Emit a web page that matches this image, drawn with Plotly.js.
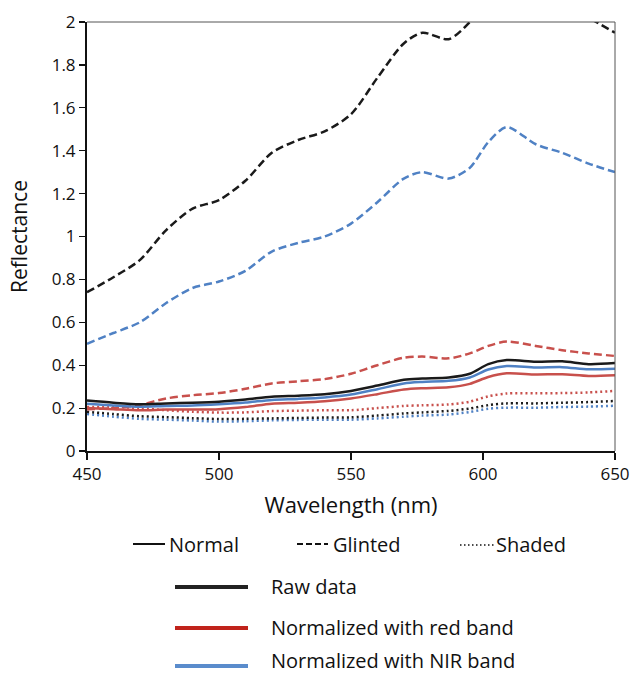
<!DOCTYPE html>
<html><head><meta charset="utf-8">
<script src="https://cdn.plot.ly/plotly-3.0.1.min.js"></script>
<style>html,body{margin:0;padding:0;background:#fff}</style>
</head><body><div id="chart" style="width:634px;height:676px"></div>
<script>
const wavelength = [450,460,470,480,490,500,510,520,530,540,550,560,570,577,587,595,602,609,620,630,640,650];

const normalRaw = [0.235,0.225,0.218,0.222,0.225,0.23,0.24,0.253,0.258,0.265,0.28,0.305,0.332,0.338,0.343,0.36,0.405,0.424,0.416,0.418,0.405,0.41];
const normalRed = [0.20,0.195,0.19,0.193,0.193,0.195,0.205,0.22,0.225,0.232,0.245,0.265,0.287,0.293,0.297,0.313,0.345,0.362,0.357,0.358,0.35,0.353];
const normalNIR = [0.22,0.212,0.206,0.21,0.212,0.218,0.226,0.238,0.243,0.25,0.263,0.288,0.315,0.322,0.327,0.343,0.38,0.396,0.389,0.391,0.381,0.384];

const glintedRaw = [0.74,0.81,0.89,1.03,1.13,1.17,1.26,1.39,1.45,1.49,1.57,1.74,1.90,1.95,1.92,2.0,2.12,2.18,2.15,2.09,2.02,1.95];
const glintedRed = [0.195,0.20,0.215,0.245,0.26,0.27,0.29,0.315,0.325,0.335,0.36,0.40,0.435,0.44,0.432,0.455,0.49,0.51,0.49,0.47,0.455,0.443];
const glintedNIR = [0.50,0.55,0.60,0.69,0.76,0.79,0.84,0.93,0.97,1.00,1.06,1.16,1.27,1.30,1.27,1.32,1.44,1.51,1.43,1.39,1.34,1.30];

const shadedRaw = [0.183,0.172,0.162,0.158,0.153,0.149,0.15,0.152,0.154,0.156,0.157,0.165,0.175,0.18,0.187,0.198,0.214,0.222,0.222,0.225,0.228,0.233];
const shadedRed = [0.205,0.205,0.20,0.19,0.183,0.179,0.18,0.186,0.188,0.19,0.19,0.2,0.21,0.213,0.217,0.23,0.255,0.268,0.269,0.27,0.273,0.28];
const shadedNIR = [0.172,0.16,0.15,0.146,0.142,0.137,0.139,0.143,0.145,0.146,0.146,0.152,0.16,0.165,0.17,0.182,0.197,0.202,0.202,0.205,0.207,0.211];

const xTicks = [450,500,550,600,650];
const yTicks = [0,0.2,0.4,0.6,0.8,1,1.2,1.4,1.6,1.8,2];
const yTickText = ['0','0.2','0.4','0.6','0.8','1','1.2','1.4','1.6','1.8','2'];

const conditionLabels = ['Normal','Glinted','Shaded'];
const methodLabels = ['Raw data','Normalized with red band','Normalized with NIR band'];

const BLACK = '#1a1a1a', RED = '#c8504c', BLUE = '#4f81c4';
const LEG_RED = '#c0231b', LEG_BLUE = '#5a8ccc';
const DASH = '8px,4px', DOT = '2px,3px';

function tr(y, color, dash, w) {
  return {x: wavelength, y: y, type: 'scatter', mode: 'lines',
    line: {color: color, width: w || 2.5, dash: dash, shape: 'spline', smoothing: 0.8},
    showlegend: false, hoverinfo: 'skip'};
}

const traces = [
  tr(shadedNIR, BLUE, DOT), tr(shadedRaw, BLACK, DOT), tr(shadedRed, RED, DOT),
  tr(glintedRed, RED, DASH), tr(glintedNIR, BLUE, DASH), tr(glintedRaw, BLACK, DASH),
  tr(normalRed, RED, 'solid'), tr(normalNIR, BLUE, 'solid'), tr(normalRaw, BLACK, 'solid')
];

// legend geometry in paper coords (plot area 87..615 x, 22..451 y)
function px(x){ return (x-87)/528; }
function py(y){ return (451-y)/429; }

const shapes = [
  {type:'line', xref:'paper', yref:'paper', x0:0, x1:1, y0:1, y1:1, line:{color:'#555', width:1}},
  {type:'line', xref:'paper', yref:'paper', x0:1, x1:1, y0:0, y1:1, line:{color:'#555', width:1}},
  {type:'line', xref:'paper', yref:'paper', x0:px(133), x1:px(165), y0:py(544), y1:py(544), line:{color:'#111', width:2}},
  {type:'line', xref:'paper', yref:'paper', x0:px(297), x1:px(328), y0:py(544), y1:py(544), line:{color:'#111', width:2, dash:'6px,3px'}},
  {type:'line', xref:'paper', yref:'paper', x0:px(460), x1:px(494), y0:py(545), y1:py(545), line:{color:'#111', width:1.5, dash:'1.5px,2.5px'}},
  {type:'line', xref:'paper', yref:'paper', x0:px(175), x1:px(248), y0:py(587), y1:py(587), line:{color:'#222', width:4}},
  {type:'line', xref:'paper', yref:'paper', x0:px(175), x1:px(248), y0:py(628), y1:py(628), line:{color:LEG_RED, width:4}},
  {type:'line', xref:'paper', yref:'paper', x0:px(175), x1:px(248), y0:py(666), y1:py(666), line:{color:LEG_BLUE, width:4}}
];

const F = 'Open Sans, Noto Sans, sans-serif';
function ann(text, x, y) {
  return {text: text, xref:'paper', yref:'paper', x: px(x), y: py(y), xanchor:'left', yanchor:'middle',
    showarrow:false, borderpad:0, font:{family:F, size:20, color:'#111'}};
}
const annotations = [
  ann(conditionLabels[0], 168, 544), ann(conditionLabels[1], 332, 544), ann(conditionLabels[2], 495, 544),
  ann(methodLabels[0], 270, 586), ann(methodLabels[1], 270, 627), ann(methodLabels[2], 270, 660)
];

const layout = {
  width: 634, height: 676,
  margin: {l: 87, r: 19, t: 22, b: 225},
  paper_bgcolor: '#fff', plot_bgcolor: '#fff',
  font: {family: F, color: '#111', size: 17},
  xaxis: {range: [450, 650], tickvals: xTicks, ticktext: xTicks.map(String),
    showline: true, linecolor: '#111', linewidth: 1.5, ticks: 'outside', ticklen: 7, tickcolor: '#111', tickwidth: 1.2,
    showgrid: false, zeroline: false, tickfont: {family: F, size: 17, color: '#111'},
    title: {text: 'Wavelength (nm)', font: {family: F, size: 22, color: '#111'}, standoff: 13}},
  yaxis: {range: [0, 2], tickvals: yTicks, ticktext: yTickText,
    showline: true, linecolor: '#111', linewidth: 2, ticks: 'outside', ticklen: 6, tickcolor: '#111', tickwidth: 1.2,
    showgrid: false, zeroline: false, tickfont: {family: F, size: 17, color: '#111'},
    title: {text: 'Reflectance', font: {family: F, size: 21, color: '#111'}, standoff: 18}},
  shapes: shapes,
  annotations: annotations
};

Plotly.newPlot('chart', traces, layout, {displayModeBar: false, staticPlot: true});
</script>
</body></html>
